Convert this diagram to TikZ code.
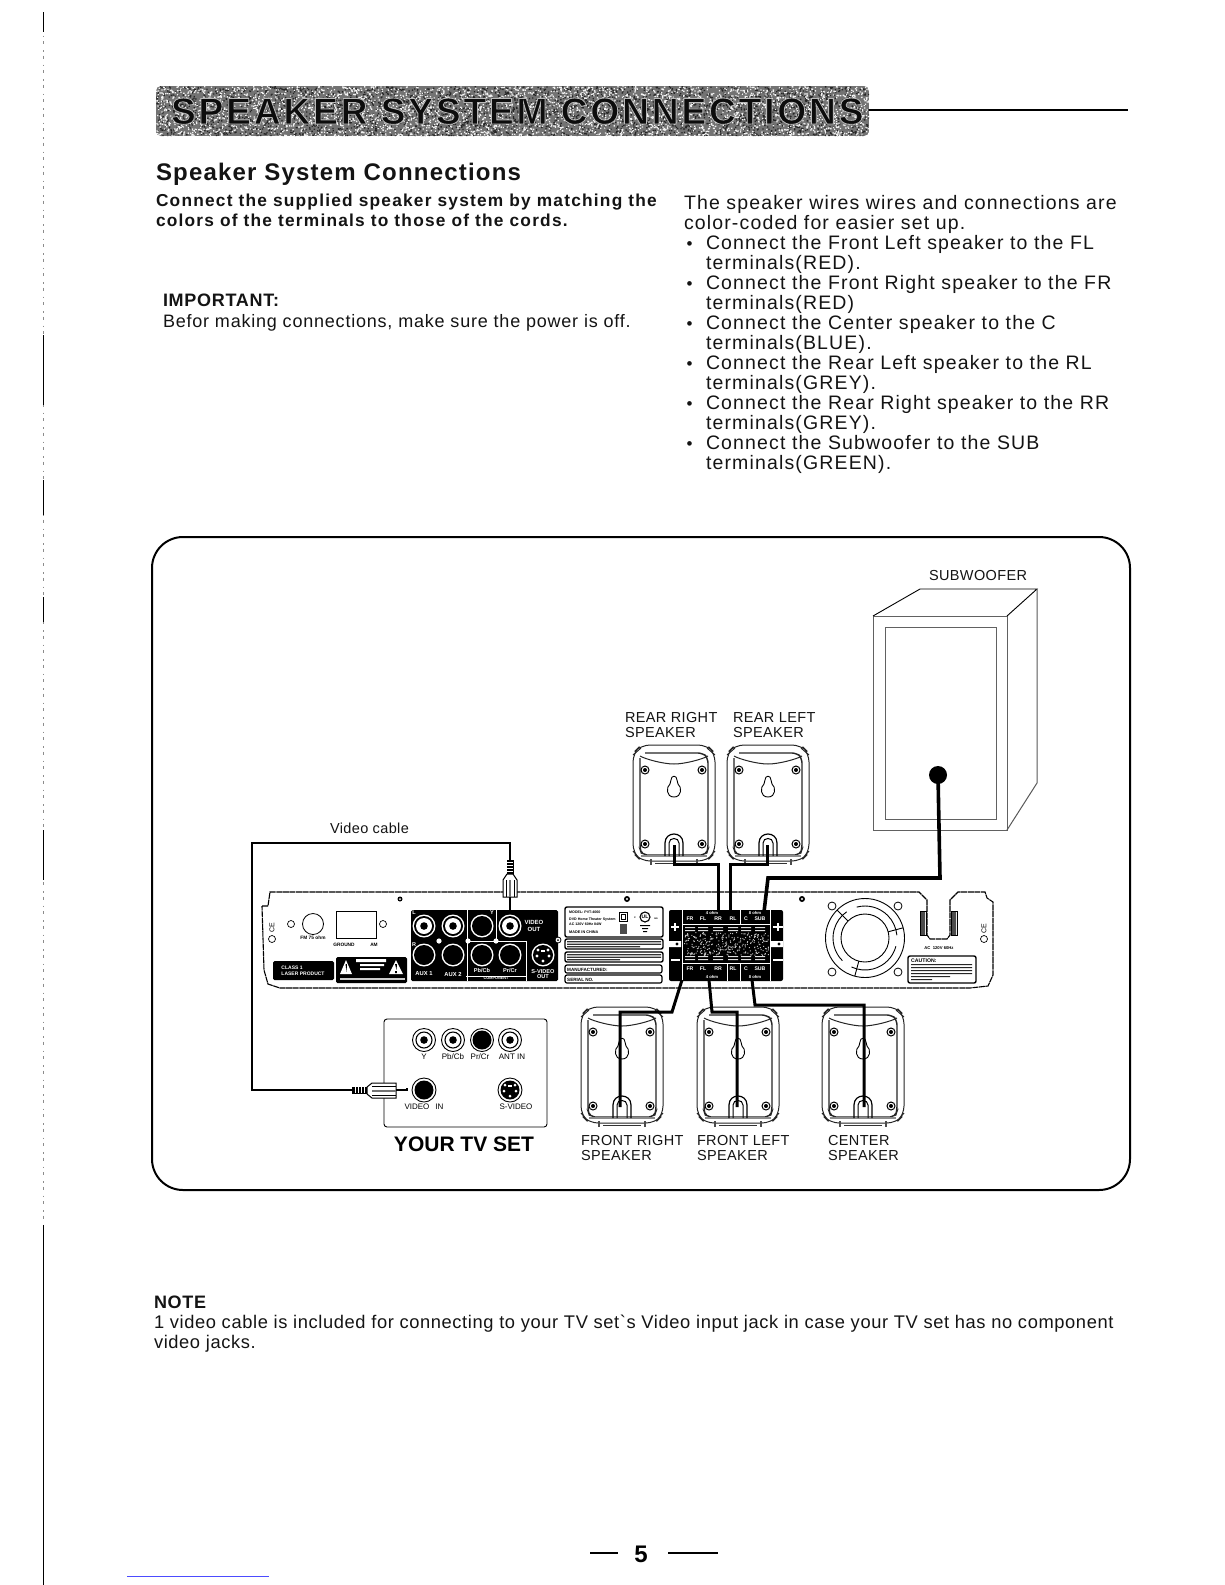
\documentclass[tikz,border=0pt]{standalone}
\usepackage{fontspec}
\setmainfont{Liberation Sans}
\newfontfamily\bodyf[LetterSpace=5.9]{Liberation Sans}
\newfontfamily\noteb[LetterSpace=4.4]{Liberation Sans}
\newfontfamily\notec[LetterSpace=3.35]{Liberation Sans}
\newfontfamily\labf[LetterSpace=2.6]{Liberation Sans}
\newfontfamily\bandf[LetterSpace=7.5]{Liberation Sans Bold}
\newfontfamily\headf[LetterSpace=5]{Liberation Sans Bold}
\newfontfamily\subhf[LetterSpace=7.1]{Liberation Sans Bold}
\newfontfamily\imph[LetterSpace=4]{Liberation Sans Bold}
\newfontfamily\plainb{Liberation Sans Bold}
\newcommand{\fs}[1]{\fontsize{#1}{#1}\selectfont}
\tikzset{
  x=1pt,y=-1pt,
  txt/.style={anchor=base west,inner sep=0,outer sep=0,text=black!92},
  lab/.style={txt,font=\labf\fs{14.5}},
  ctr/.style={anchor=center,inner sep=0,outer sep=0,align=center},
  wire/.style={line width=3pt,black,line join=miter},
  wthin/.style={line width=2.2pt,black,line join=miter},
  wtx/.style={ctr,text=white,font=\plainb\fs{5.5}},
  btx/.style={ctr,text=black,font=\plainb\fs{5}},
  spk/.pic={
    % outer body
    \draw[line width=1pt,black!85,rounded corners=9pt] (0,8) -- (0,108) -- (8,116) -- (74,116) -- (82,108) -- (82,8) -- (74,0) -- (8,0) -- cycle;
    \draw[line width=1pt,black!85] (0,10) -- (8,3) (82,10) -- (74,3) (0,106) -- (7,114) (82,106) -- (75,114);
    % inner body
    \draw[line width=1.4pt,black!85,rounded corners=5pt] (7,13) -- (7,104) -- (9,110) -- (73,110) -- (75,104) -- (75,13) -- (70,8) -- (12,8);
    \draw[line width=1pt,black!85] (7,11) .. controls (12,14) and (30,19) .. (41,19) .. controls (52,19) and (70,14) .. (75,11);
    \draw[line width=1.8pt,black!45] (8,111) -- (74,111);
    % screws
    \foreach \sx/\sy in {12/25,69/25,12/99,69/99}{
      \draw[line width=1pt,black] (\sx,\sy) circle[radius=4];
      \fill[black] (\sx,\sy) circle[radius=2];
    }
    % keyhole
    \draw[line width=0.9pt,black] (38,35) -- (37,39) .. controls (33,42) and (33,52) .. (41,52) .. controls (49,52) and (49,42) .. (45,39) -- (44,35) .. controls (44,30) and (38,30) .. (38,35) -- cycle;
    % bottom U
    \draw[line width=1.2pt,black] (32,111) -- (32,98) .. controls (32,86) and (50,86) .. (50,98) -- (50,111);
    \draw[line width=1pt,black] (36,111) -- (36,98) .. controls (36,92) and (46,92) .. (46,98) -- (46,111);
    % feet
    \draw[line width=1.6pt,black!70] (18,114) -- (18,120) (64,114) -- (64,120);
    \draw[line width=0.8pt,black!80] (22,118) -- (60,118);
  },
}
\begin{document}
\begin{tikzpicture}
\useasboundingbox (0,0) rectangle (1225,1585);
\fill[white] (0,0) rectangle (1225,1585);
\pgfmathsetseed{11}

% left margin scan line
\draw[line width=1pt,black!45,dash pattern=on 3pt off 6pt on 1.5pt off 4pt] (43.5,12) -- (43.5,1585);
\draw[line width=1.2pt,black] (43.5,12) -- (43.5,32) (43.5,335) -- (43.5,405) (43.5,480) -- (43.5,515) (43.5,597) -- (43.5,622) (43.5,830) -- (43.5,880) (43.5,1225) -- (43.5,1585);

% ---------- title band ----------
\begin{scope}
  \clip[rounded corners=5pt] (156,86) rectangle (869,136);
  \fill[black!55] (156,86) rectangle (869,136);
  \fill[black!85] foreach \i in {1,...,3800} { ({156+rnd*713},{86+rnd*50}) rectangle ++(1.3,1.3) };
  \fill[white!95!black] foreach \i in {1,...,3800} { ({156+rnd*713},{86+rnd*50}) rectangle ++(1.3,1.3) };
\end{scope}
\node[txt] (band) at (171,124) {\bandf\fs{37.2}\special{pdf:code 2 Tr 0.8 w 0.72 G 0.05 g}SPEAKER SYSTEM CONNECTIONS\special{pdf:code 0 Tr 0 g 0 G}};
\draw[line width=2.2pt,black] (869,110) -- (1128,110);

% ---------- top text ----------
\node[txt] (h1) at (156,180) {\headf\fs{24}Speaker System Connections};
\node[txt] (b1) at (156,206) {\subhf\fs{17.3}Connect the supplied speaker system by matching the};
\node[txt] (b2) at (156,226) {\subhf\fs{17.3}colors of the terminals to those of the cords.};
\node[txt] (imp) at (163,306) {\imph\fs{18}IMPORTANT:};
\node[txt] (bef) at (163,327) {\noteb\fs{18}Befor making connections, make sure the power is off.};

\foreach \nm/\n/\tx/\xx in {
  r0/0/The speaker wires wires and connections are/684,
  r1/1/color-coded for easier set up./684,
  r2/2/Connect the Front Left speaker to the FL/706,
  r3/3/terminals(RED)./706,
  r4/4/Connect the Front Right speaker to the FR/706,
  r5/5/terminals(RED)/706,
  r6/6/Connect the Center speaker to the C/706,
  r7/7/terminals(BLUE)./706,
  r8/8/Connect the Rear Left speaker to the RL/706,
  r9/9/terminals(GREY)./706,
  r10/10/Connect the Rear Right speaker to the RR/706,
  r11/11/terminals(GREY)./706,
  r12/12/Connect the Subwoofer to the SUB/706,
  r13/13/terminals(GREEN)./706}{
  \node[txt] (\nm) at (\xx,{209+20.06*\n}) {\bodyf\fs{19.5}\tx};
}
\foreach \nm/\n in {d2/2,d4/4,d6/6,d8/8,d10/10,d12/12}{
  \node[txt] (\nm) at (686.5,{209+20.06*\n}) {\fs{17}•};
}

% ---------- frame ----------
\draw[line width=2pt,black,rounded corners=31pt] (152,537) rectangle (1130,1190);

% ---------- subwoofer ----------
\node[lab] (lsub) at (929,580) {SUBWOOFER};
\draw[line width=1pt,black!62] (873,616) rectangle (1007,830);
\draw[line width=1pt,black!62] (885,627) rectangle (996,819);
\draw[line width=0.9pt,black] (873,616) -- (920,589) -- (1037,589) -- (1007,616);
\draw[line width=1pt,black!65] (1037,589) -- (1037,783) -- (1007,830);
\fill[black] (938,775) circle[radius=9] coordinate (subdot);

% ---------- rear speakers ----------
\node[lab] (lrr1) at (625,722) {REAR RIGHT};
\node[lab] (lrr2) at (625,737) {SPEAKER};
\node[lab] (lrl1) at (733,722) {REAR LEFT};
\node[lab] (lrl2) at (733,737) {SPEAKER};
\pic at (633,745) {spk};
\pic at (727,745) {spk};

% ---------- front speakers ----------
\pic at (581,1007) {spk};
\pic at (697,1007) {spk};
\pic at (822,1007) {spk};
\node[lab] (lfr1) at (581,1145) {FRONT RIGHT};
\node[lab] (lfr2) at (581,1160) {SPEAKER};
\node[lab] (lfl1) at (697,1145) {FRONT LEFT};
\node[lab] (lfl2) at (697,1160) {SPEAKER};
\node[lab] (lc1) at (828,1145) {CENTER};
\node[lab] (lc2) at (828,1160) {SPEAKER};

% ---------- back panel ----------
\draw[line width=1.1pt,black,dash pattern=on 6pt off 0.6pt,fill=white] (262,906) -- (268,906) -- (270,892) -- (919,892) -- (927,900) -- (927,935) -- (930,939) -- (947,939) -- (950,935) -- (950,900) -- (958,892) -- (985,892) -- (987,898) -- (993,902) -- (993,975) -- (988,986) -- (970,988) -- (280,988) -- (268,984) -- (264,970) -- cycle;

% panel left
\fill[black] (400,899) circle[radius=2.5];
\fill[white] (400,899) circle[radius=1];
\node[ctr,rotate=90,font=\fs{7}] (usb) at (272,928) {CE};
\draw[line width=0.7pt] (272,939) circle[radius=3.5];
\draw[line width=0.7pt] (291,924) circle[radius=3.5];
\draw[line width=0.8pt] (313,924) circle[radius=10.5];
\node[btx,font=\plainb\fs{4.8}] (fm) at (313,938) {FM 75 ohm};
\draw[line width=0.8pt] (336,911) rectangle (376,938);
\draw[line width=0.7pt] (383,924) circle[radius=3.5];
\node[btx,font=\plainb\fs{4.8}] (gnd) at (344,945) {GROUND};
\node[btx,font=\plainb\fs{4.8}] (am) at (374,945) {AM};
\fill[black,rounded corners=1.5pt] (273,961) rectangle (334,980);
\node[wtx,align=left,font=\plainb\fs{5}] (cls) at (303,970.5) {CLASS 1\\[1pt]LASER PRODUCT};
\fill[black,rounded corners=1.5pt] (336,957) rectangle (407,983);
\fill[white] (340,974) -- (346,960) -- (352,974) -- cycle;
\fill[white] (389,974) -- (396,960) -- (403,974) -- cycle;
\fill[black] (345.5,964) -- (347,964) -- (346.5,972) -- cycle;
\fill[black] (395,964) -- (397,964) -- (396.5,970) -- cycle (395.2,971) rectangle (396.8,973);
\fill[white] (356,959) rectangle (386,962) (360,964) rectangle (384,966) (360,968) rectangle (380,970);
\fill[white!80!black] (340,978) rectangle (405,979.5);

% connector block
\fill[black,rounded corners=1.5pt] (411,910) rectangle (558,981);
\draw[white,line width=1pt] (467,910) -- (467,981) (496,910) -- (496,941) -- (526,941) -- (526,981) (497,941) -- (468,941) (466,976) -- (526,976);
\foreach \px in {439,468,496}{\fill[white] (\px,941) circle[radius=2.6];}
\foreach \px in {424,453,510}{
  \fill[white] (\px,926) circle[radius=11.5];
  \fill[black] (\px,926) circle[radius=10];
  \fill[white] (\px,926) circle[radius=8];
  \fill[black] (\px,926) circle[radius=3.8];
}
\foreach \px/\py in {482/926,424/955,453/955,482/955,510/955}{
  \fill[white] (\px,\py) circle[radius=11.5];
  \fill[black] (\px,\py) circle[radius=10];
}
\fill[white] (543,955) circle[radius=11.5];
\fill[black] (543,955) circle[radius=10];
\foreach \a/\b in {538/950,548/950,537/956,549/956,543/961}{\fill[white] (\a,\b) circle[radius=1.6];}
\fill[white] (541,950) rectangle (545,952);
\node[wtx] (ll) at (414,913) {L};
\node[wtx] (lr) at (414,945) {R};
\node[wtx] (ly) at (492,913) {Y};
\node[wtx,font=\plainb\fs{6}] (vo) at (534,926) {VIDEO\\[0.5pt]OUT};
\node[wtx,font=\plainb\fs{5.8}] (a1) at (424,974) {AUX 1};
\node[wtx,font=\plainb\fs{5.8}] (a2) at (453,974) {AUX 2};
\node[wtx,font=\plainb\fs{5.6}] (pb) at (482,971) {Pb/Cb};
\node[wtx,font=\plainb\fs{5.6}] (pr) at (510,971) {Pr/Cr};
\node[wtx,font=\plainb\fs{3.8}] (cm) at (496,978.5) {COMPONENT};
\node[wtx,font=\plainb\fs{5.6}] (so) at (543,974) {S-VIDEO\\[-0.5pt]OUT};
\draw[line width=0.8pt,fill=white] (558,940) circle[radius=3];
\fill[black] (558,940) circle[radius=1];

% label block
\draw[line width=1.4pt,rounded corners=2pt] (565,907) rectangle (663,937);
\node[anchor=base west,inner sep=0,font=\plainb\fs{3.6}] (m1) at (569,913) {MODEL: PVT-4060};
\node[anchor=base west,inner sep=0,font=\plainb\fs{3.6}] (m2) at (569,920) {DVD Home Theater System};
\node[anchor=base west,inner sep=0,font=\plainb\fs{3.6}] (m3) at (569,925) {AC~120V 60Hz 84W};
\node[anchor=base west,inner sep=0,font=\plainb\fs{3.8}] (m4) at (569,933) {MADE IN CHINA};
\draw[line width=0.8pt] (619,912) rectangle (627,921);
\draw[line width=0.8pt] (621,914) rectangle (625,919);
\fill[black!70] (620,924) rectangle (627,934);
\draw[line width=1.1pt] (645,917) circle[radius=5];
\node[btx,font=\plainb\fs{5}] (ul) at (645,917) {UL};
\node[btx,font=\plainb\fs{3}] (cc) at (635,918) {c};
\node[btx,font=\plainb\fs{3}] (us) at (656,919) {us};
\fill[black] (640,925) rectangle (650,926) (642,928) rectangle (648,929) (643,931) rectangle (647,932);
\draw[line width=1.4pt,rounded corners=2pt] (565,939) rectangle (663,949);
\fill[black!80] (567,941) rectangle (661,942.3) (567,943.5) rectangle (661,944.8) (567,946) rectangle (640,947.3);
\draw[line width=1.4pt,rounded corners=2pt] (565,952) rectangle (663,962);
\fill[black!80] (567,954) rectangle (661,955.3) (567,956.5) rectangle (661,957.8) (567,959) rectangle (620,960.3);
\draw[line width=1.2pt,rounded corners=2pt] (565,965) rectangle (662,973);
\node[anchor=base west,inner sep=0,font=\plainb\fs{4.6}] (mf) at (567,971) {MANUFACTURED:};
\draw[line width=1.2pt,rounded corners=2pt] (565,975) rectangle (662,983);
\node[anchor=base west,inner sep=0,font=\plainb\fs{4.6}] (sn) at (567,981) {SERIAL NO.};
\fill[black] (627,899) circle[radius=3];
\fill[white] (627,899) circle[radius=1.2];

% terminal block
\fill[black,rounded corners=2pt] (669,910) rectangle (783,981);
\fill[white] (669,941) rectangle (681,947) (771,941) rectangle (783,947);
\draw[white,line width=0.8pt] (682,910) -- (682,981) (770,910) -- (770,981);
\draw[white,line width=0.7pt] (682,924) -- (770,924) (682,963) -- (770,963) (740,910) -- (740,924) (727,963) -- (727,981) (740,963) -- (740,981);
\fill[white] (677,944) circle[radius=3];
\fill[white] (779,944) circle[radius=3];
\fill[black] (677,944) circle[radius=1.6];
\fill[black] (779,944) circle[radius=1.6];
\draw[white,line width=1.2pt] (671,927) -- (679,927) (675,923) -- (675,931) (773,927) -- (783,927) (778,923) -- (778,931) (671,960) -- (680,960) (773,960) -- (783,960);
\foreach \nm/\px/\lab in {t1/690/FR,t2/703/FL,t3/718/RR,t4/733/RL,t5/746/C,t6/760/SUB}{
  \node[wtx,font=\plainb\fs{5.2}] (\nm) at (\px,919) {\lab};
  \fill[white!88!black] ({\px-5},927) rectangle ({\px+5},928) ({\px-5},930) rectangle ({\px+5},931) ({\px-5},956) rectangle ({\px+5},957) ({\px-5},959) rectangle ({\px+5},960);
}
\foreach \nm/\px/\lab in {u1/690/FR,u2/703/FL,u3/718/RR,u4/733/RL,u5/746/C,u6/760/SUB}{
  \node[wtx,font=\plainb\fs{5.2}] (\nm) at (\px,969) {\lab};
}
\node[wtx,font=\plainb\fs{4.2}] (o1) at (712,913) {4 ohm};
\node[wtx,font=\plainb\fs{4.2}] (o2) at (755,913) {8 ohm};
\node[wtx,font=\plainb\fs{4.2}] (o3) at (712,977) {4 ohm};
\node[wtx,font=\plainb\fs{4.2}] (o4) at (755,977) {8 ohm};
\fill[white!75!black] foreach \i in {1,...,300} { ({684+rnd*84},{932+rnd*23}) rectangle ++(1,1) };

% fan
\fill[black] (802,899) circle[radius=3];
\fill[white] (802,899) circle[radius=1.2];
\foreach \cx/\cy in {832/906,898/906,832/972,898/972}{\draw[line width=0.8pt] (\cx,\cy) circle[radius=4];}
\draw[line width=0.9pt] (865,938) circle[radius=39.5];
\draw[line width=0.9pt] (865,938) circle[radius=24];
\foreach \st in {15,135,255}{
  \draw[line width=0.9pt] (865,938) ++({\st}:32) arc[start angle=\st,end angle={\st+100},radius=32];
  \draw[line width=0.9pt] ({865+24*cos(\st)},{938-24*sin(\st)}) -- ({865+39.5*cos(\st)},{938-39.5*sin(\st)});
}
% power notch details
\fill[black!70] (920,911) rectangle (925,935) (951,911) rectangle (956,935);
\draw[line width=0.7pt] (920,911) rectangle (926,935) (951,911) rectangle (957,935);
\node[btx,font=\plainb\fs{4.2}] (ac) at (939,948) {AC~ 120V 60Hz};
\draw[line width=1.4pt,rounded corners=2pt] (908,956) rectangle (976,983);
\node[anchor=base west,inner sep=0,font=\plainb\fs{5.2}] (ca) at (911,962) {CAUTION:};
\fill[black!85] (911,964) rectangle (972,965) (911,967) rectangle (972,968) (911,970) rectangle (972,971) (911,973) rectangle (972,974) (911,976) rectangle (950,977) (911,979) rectangle (932,980);
\node[ctr,rotate=90,font=\fs{7}] (ce2) at (984,929) {CE};
\draw[line width=0.7pt] (984,939) circle[radius=3.5];

% ---------- wires ----------
\coordinate (srr) at (674,845); \coordinate (trr) at (718,912);
\coordinate (srl) at (767,845); \coordinate (trl) at (730,912);
\coordinate (tsb) at (764,912);
\coordinate (sfr) at (620,1107); \coordinate (tfr) at (682,980);
\coordinate (sfl) at (737,1107); \coordinate (tfl) at (709,980);
\coordinate (sc)  at (864,1107); \coordinate (tc)  at (752,980);
\draw[wire] (srr) -- (srr |- 0,864) -- (trr |- 0,864) -- (trr);
\draw[wire] (srl) -- (srl |- 0,864) -- (trl |- 0,864) -- (trl);
\draw[wire,line width=3.6pt] (subdot) -- (940,878) -- (768,878) -- (tsb);
\draw[wire] (tfr) -- (672,1012) -- (620,1012) -- (sfr);
\draw[wire] (tfl) -- (712,1012) -- (737,1012) -- (sfl);
\draw[wire] (tc) -- (755,1005) -- (864,1005) -- (sc);

% ---------- TV set ----------
\draw[line width=0.9pt,rounded corners=3pt] (384,1019) rectangle (547,1127);
\foreach \px in {424,453,510}{
  \draw[line width=0.9pt] (\px,1040) circle[radius=11.5];
  \draw[line width=1.1pt] (\px,1040) circle[radius=8];
  \fill[black] (\px,1040) circle[radius=3.8];
}
\draw[line width=0.9pt] (482,1040) circle[radius=11.5];
\fill[black] (482,1040) circle[radius=9.5];
\node[ctr,font=\fs{8}] (ty) at (424,1057) {Y};
\node[ctr,font=\fs{8}] (tpb) at (453,1057) {Pb/Cb};
\node[ctr,font=\fs{8}] (tpr) at (480,1057) {Pr/Cr};
\node[ctr,font=\fs{8}] (tan) at (512,1057) {ANT IN};
\draw[line width=0.9pt] (424,1090) circle[radius=12];
\fill[black] (424,1090) circle[radius=9.5];
\draw[line width=0.9pt] (510,1090) circle[radius=12];
\fill[black] (510,1090) circle[radius=9.5];
\foreach \a/\b in {505/1085,515/1085,504/1091,516/1091,510/1096}{\fill[white] (\a,\b) circle[radius=1.5];}
\fill[white] (508,1085) rectangle (512,1087);
\node[ctr,font=\fs{8}] (tvi) at (424,1107) {VIDEO\hspace{6pt}IN};
\node[ctr,font=\fs{8}] (tsv) at (516,1107) {S-VIDEO};
\node[anchor=base,inner sep=0,font=\plainb\fs{21}] (yts) at (464,1151) {YOUR TV SET};

% ---------- video cable ----------
\coordinate (vcp1) at (510,860);
\coordinate (vcp2) at (352,1090);
\node[lab] (lvc) at (330,833) {Video cable};
\draw[wthin] (vcp1) -- (510,843) -- (252,843) -- (252,1090) -- (vcp2);
% upper plug
\fill[black] (506.5,860) rectangle (513.5,874);
\foreach \yy in {862,865,868,871}{\draw[white,line width=0.5pt] (507,\yy) -- (513,\yy);}
\draw[line width=1pt,fill=white] (507,874) -- (513,874) -- (517,880) -- (517,897) -- (503,897) -- (503,880) -- cycle;
\draw[line width=0.8pt] (506,880) -- (506,897) (514,880) -- (514,897);
\fill[black!55] (509,880) rectangle (511,897);
\draw[line width=2pt] (510,897) -- (510,910);
% lower plug
\fill[black] (352,1086.5) rectangle (367,1093.5);
\foreach \xx in {355,358,361,364}{\draw[white,line width=0.5pt] (\xx,1087) -- (\xx,1093);}
\draw[line width=1pt,fill=white] (367,1087) -- (372,1083) -- (396,1083) -- (396,1098) -- (372,1098) -- (367,1094) -- cycle;
\draw[line width=0.8pt] (372,1086) -- (396,1086) (372,1095) -- (396,1095);
\fill[black!55] (372,1089.5) rectangle (396,1091.5);
\draw[line width=1.6pt] (396,1090) -- (407,1090) -- (407,1088);

% ---------- note ----------
\node[txt] (nt) at (154,1308) {\imph\fs{18}NOTE};
\node[txt] (n1) at (154,1328) {\notec\fs{18.3}1 video cable is included for connecting to your TV set`s Video input jack in case your TV set has no component};
\node[txt] (n2) at (154,1348) {\notec\fs{18.3}video jacks.};

% ---------- page number ----------
\coordinate (pl1) at (590,1553); \coordinate (pl2) at (618,1553);
\coordinate (pr1) at (668,1553); \coordinate (pr2) at (718,1553);
\node[ctr,font=\plainb\fs{24}] (pg) at (641,1554) {5};
\draw[line width=1.6pt] (pl1) -- (pl2);
\draw[line width=1.6pt] (pr1) -- (pr2);
\draw[line width=1pt,blue!70!white] (127,1576) -- (269,1576);
\end{tikzpicture}
\end{document}
